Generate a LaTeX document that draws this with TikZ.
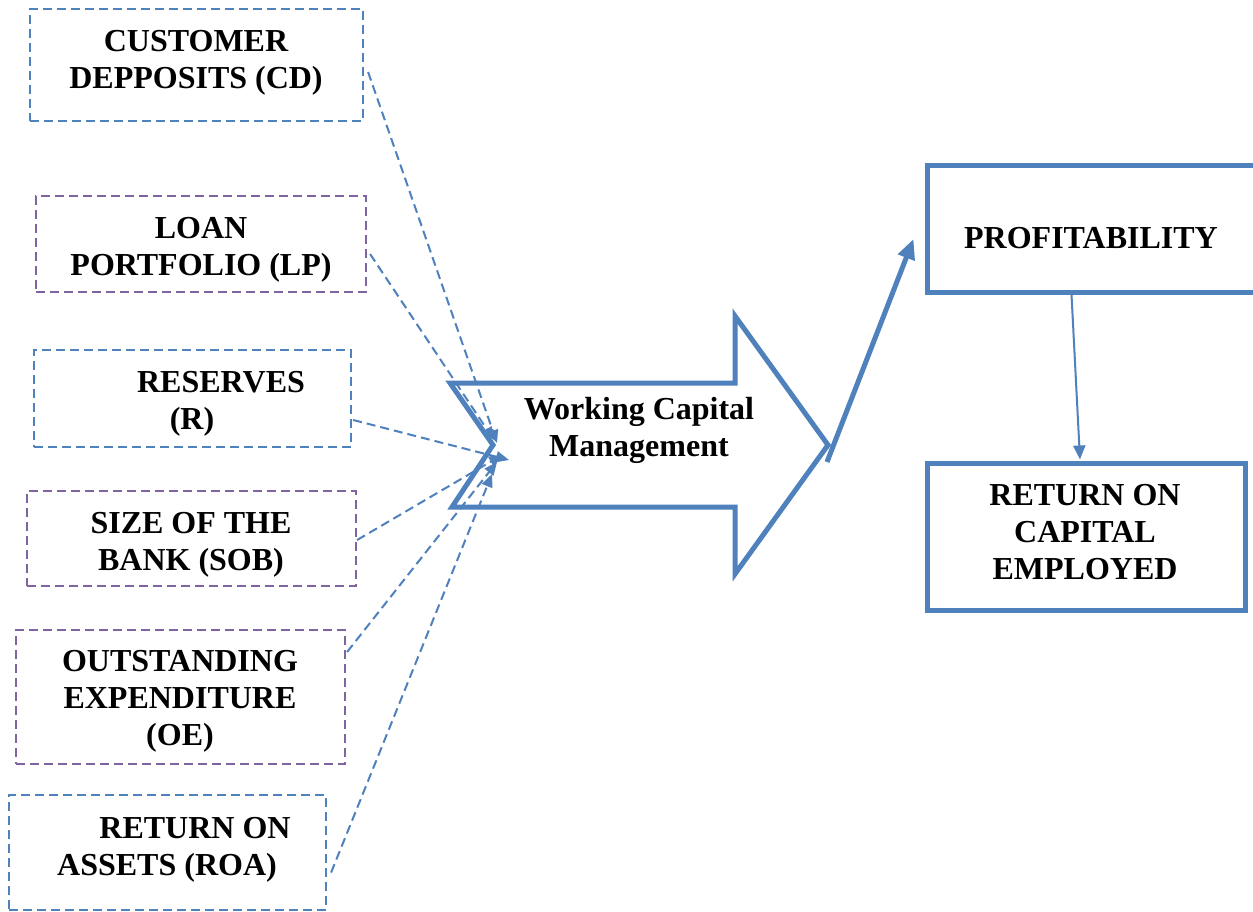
\documentclass[tikz,border=0pt]{standalone}
\usepackage{fontspec}
\setmainfont{Liberation Serif}
\usetikzlibrary{arrows.meta,calc}
\definecolor{bl}{RGB}{79,129,189}
\definecolor{pu}{RGB}{128,100,162}
\begin{document}
\begin{tikzpicture}[x=1pt,y=-1pt,
  dbox/.style={rectangle, line width=2.2pt, dash pattern=on 9pt off 5pt, inner sep=0pt},
  sbox/.style={rectangle, draw=bl, line width=5pt, inner sep=0pt},
  lbl/.style={font=\bfseries\fontsize{32}{37}\selectfont, align=center, inner sep=0pt},
  conn/.style={draw=bl, line width=2pt, dash pattern=on 9pt off 5pt, -{Triangle[length=13pt,width=11pt]}}
]
\useasboundingbox (0,0) rectangle (1253,912);
\clip (0,0) rectangle (1253,912);
\fill[white] (0,0) rectangle (1253,912);

% left dashed boxes
\node[dbox, draw=bl, minimum width=333pt, minimum height=112pt] (cd) at (196.5,65) {};
\node[dbox, draw=pu, minimum width=330pt, minimum height=96pt] (lp) at (201,244) {};
\node[dbox, draw=bl, minimum width=317pt, minimum height=97pt] (r) at (192.5,398.5) {};
\node[dbox, draw=pu, minimum width=329pt, minimum height=95pt] (sob) at (191.5,538.5) {};
\node[dbox, draw=pu, minimum width=329pt, minimum height=134pt] (oe) at (180.5,697) {};
\node[dbox, draw=bl, minimum width=317pt, minimum height=115pt] (roa) at (167.5,852.5) {};

% texts of left boxes
\node[lbl] (cdt) at (196,63) {CUSTOMER\\DEPPOSITS (CD)};
\node[lbl] (lpt) at (201,250) {LOAN\\PORTFOLIO (LP)};
\node[lbl] (rt1) at (221,382) {RESERVES};
\node[lbl] (rt2) at (192,422) {(R)};
\node[lbl] (sobt) at (191,545) {SIZE OF THE\\BANK (SOB)};
\node[lbl] (oet) at (180,701) {OUTSTANDING\\EXPENDITURE\\(OE)};
\node[lbl] (roat1) at (195,828) {RETURN ON};
\node[lbl] (roat2) at (167,868) {ASSETS (ROA)};

% big arrow
\draw[bl, line width=5pt, line join=miter] (450,383) -- (735,383) -- (735,316) -- (828,445)
  -- (735,574) -- (735,507) -- (452,507) -- (493,445) -- cycle;
\node[lbl] (wcm) at (639,430) {Working Capital\\Management};

% target coordinates at the notch
\coordinate (t1) at (497,443);
\coordinate (t2) at (494,440);
\coordinate (t3) at (509,460);
\coordinate (t4) at (502,455);
\coordinate (t5) at (497,462);
\coordinate (t6) at (492,474);

\draw[conn] ([xshift=4pt,yshift=-7pt]cd.east) -- (t1);
\draw[conn] ([xshift=3pt,yshift=-10pt]lp.east) -- (t2);
\draw[conn] ([xshift=1pt,yshift=-21.5pt]r.east) -- (t3);
\draw[conn] ([yshift=-1.5pt]sob.east) -- (t4);
\draw[conn] ([xshift=1pt,yshift=45pt]oe.east) -- (t5);
\draw[conn] ([xshift=4pt,yshift=-20pt]roa.east) -- (t6);

% right boxes
\node[sbox, minimum width=329pt, minimum height=126pt] (prof) at (1091.5,229) {};
\node[lbl] (proft) at (1091,238) {PROFITABILITY};
\node[sbox, minimum width=318pt, minimum height=147pt] (roce) at (1086,536.5) {};
\node[lbl] (rocet) at (1085,532) {RETURN ON\\CAPITAL\\EMPLOYED};

% connectors on the right
\coordinate (wstart) at (827,462);
\draw[bl, line width=5pt, -{Triangle[length=20pt,width=17pt]}] (wstart) -- ([xshift=-11pt,yshift=-10pt]prof.west);
\draw[bl, line width=2pt, -{Triangle[length=14pt,width=12pt]}] ([xshift=-20pt]prof.south) -- ([xshift=-6pt,yshift=1pt]roce.north);
\end{tikzpicture}
\end{document}
